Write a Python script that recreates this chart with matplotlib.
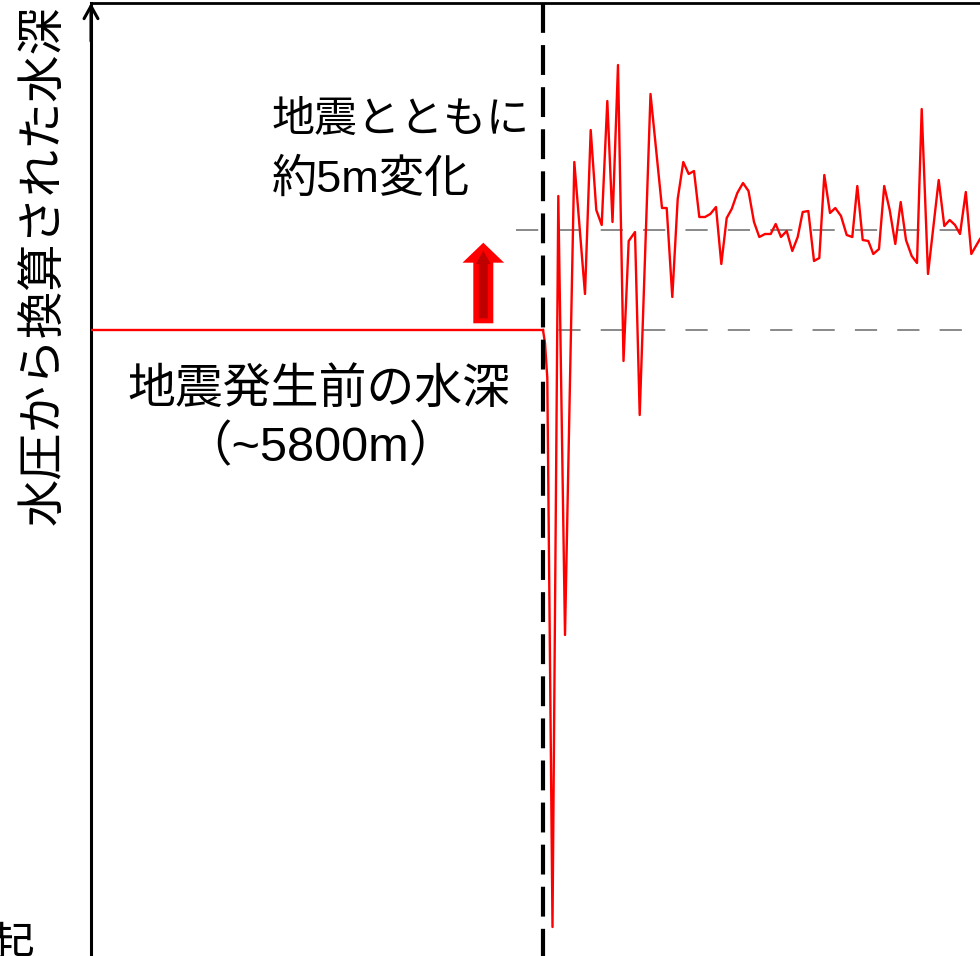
import matplotlib
matplotlib.use("Agg")
import matplotlib.pyplot as plt
from matplotlib.patches import FancyArrow

plt.rcParams['font.family'] = ['Liberation Sans', 'Noto Sans CJK JP', 'DejaVu Sans']
plt.rcParams['lines.scale_dashes'] = False

# ---- data (time in s relative to quake, depth change in m) ----
pre_time = [-452, 0]
pre_change = [0.0, 0.0]

time_s = [0, 2, 4.3, 9.5, 15.3, 22, 31.3, 42, 47.7, 53.3, 58.7, 64.3, 69.5, 75, 80.5,
          85.7, 92, 96.7, 107.5, 119, 123.7, 129.3, 134.7, 140.3, 145.7, 151, 156.3,
          162, 167.3, 173, 178.3, 183.7, 188.7, 194.3, 200, 205.5, 211, 216.3, 222,
          227.7, 232.7, 238, 243.7, 249.3, 254.7, 259.7, 265.3, 271, 276.3, 281.3,
          287, 292.3, 298, 303.7, 309.3, 314.3, 319.7, 325.3, 330.3, 336, 341.2,
          346.7, 352.3, 357.7, 363, 368.7, 374, 378.7, 385, 395.7, 401.3, 406.7,
          412, 417, 422.8, 428.3, 433.5, 437]
depth_change = [0.0, -0.65, -2.4, -29.85, 6.7, -15.25, 8.4, 1.8, 10.0, 6.0, 5.25,
                11.45, 5.4, 13.25, -1.55, 4.45, 4.9, -4.25, 11.8, 6.1, 6.1, 1.65,
                6.55, 8.4, 7.8, 7.95, 5.65, 5.65, 5.8, 6.15, 3.3, 5.6, 6.05, 6.85,
                7.35, 6.95, 5.4, 4.65, 4.8, 4.8, 5.3, 4.65, 4.95, 3.95, 4.65, 5.9,
                5.95, 3.45, 3.6, 7.75, 5.85, 6.1, 5.7, 4.75, 4.65, 7.2, 4.5, 4.45,
                3.8, 4.05, 7.2, 6.0, 4.3, 6.4, 4.5, 3.7, 3.35, 11.05, 2.8, 7.5, 5.2,
                5.5, 5.25, 4.8, 6.9, 3.8, 4.25, 4.55]
ref_levels = [0.0, 5.0]
quake_time = 0

W, H = 980, 956
fig = plt.figure(figsize=(W / 100, H / 100), dpi=100)
ax = fig.add_axes([91 / W, 0, (W - 91) / W, (H - 3) / H])
ax.set_xlim(-452, 437)
ax.set_ylim(-31.3, 16.35)
for s in ['right', 'bottom']:
    ax.spines[s].set_visible(False)
ax.spines['left'].set_linewidth(2.2)
ax.spines['top'].set_linewidth(2.0)
ax.set_xticks([])
ax.set_yticks([])
ax.patch.set_alpha(0)

# axis arrow head at top of left spine
ax.annotate('', xy=(0, 1.0), xycoords='axes fraction', xytext=(0, 0.96),
            textcoords='axes fraction',
            arrowprops=dict(arrowstyle='->,head_length=0.9,head_width=0.5',
                            lw=2.2, color='black', shrinkA=0, shrinkB=0))

# reference dashed lines
for lv in ref_levels:
    ax.plot([-27, 437], [lv, lv], color='#808080', lw=1.3, dashes=(16, 14.5), zorder=3)

# pre-quake line and signal
ax.plot(pre_time, pre_change, color='#FF0000', lw=1.7, zorder=4)
ax.plot(time_s, depth_change, color='#FF0000', lw=1.7, zorder=4)

# quake vertical dashed line
ax.plot([quake_time, quake_time], [16.35, -31.3], color='black', lw=3.0,
        dashes=(21.5, 8.8), dash_capstyle='butt', zorder=5)

# red up arrow
ax.add_patch(FancyArrow(-59.7, 0.335, 0, 4.03, width=20, head_width=41.6,
                        head_length=1.0, length_includes_head=True,
                        facecolor='#FF0000', edgecolor='none', zorder=6))
ax.add_patch(FancyArrow(-59.7, 0.585, 0, 3.38, width=9, head_width=14.7,
                        head_length=0.665, length_includes_head=True,
                        facecolor='#C00000', edgecolor='none', zorder=7))


def fp(x, y):
    return x / W, 1 - y / H

fig.text(*fp(272, 121), '地震とともに', fontsize=31, ha='left', va='center')
fig.text(*fp(272, 180), '約5m変化', fontsize=32.5, ha='left', va='center')
fig.text(*fp(319, 390), '地震発生前の水深', fontsize=34.5, ha='center', va='center')
fig.text(*fp(320, 448), '（~5800m）', fontsize=35, ha='center', va='center')
fig.text(*fp(45, 265), '水圧から換算された水深', fontsize=34, ha='center',
         va='center', rotation=90)
fig.text(*fp(12, 948), '起', fontsize=33, ha='center', va='center')

fig.savefig('out.png', dpi=100)
